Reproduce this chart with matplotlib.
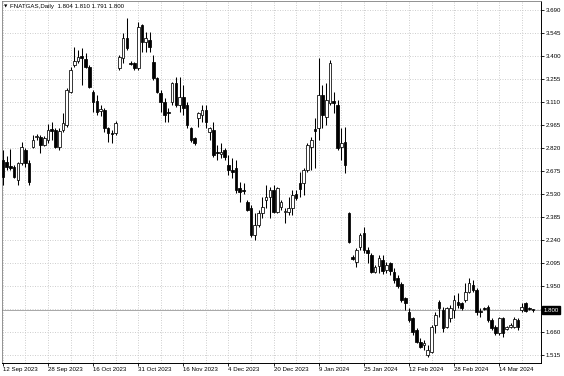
import matplotlib
matplotlib.use("Agg")
import matplotlib.pyplot as plt
from matplotlib.transforms import blended_transform_factory

# Daily OHLC, FNATGAS
opens = [2.745, 2.732, 2.707, 2.701, 2.619, 2.726, 2.808, 2.726, 2.827, 2.890,
         2.890, 2.839, 2.871, 2.940, 2.934, 2.827, 2.934, 2.965, 3.173, 3.343,
         3.369, 3.400, 3.381, 3.331, 3.173, 3.117, 3.054, 3.060, 2.947, 2.915,
         2.915, 3.325, 3.388, 3.514, 3.356, 3.356, 3.325, 3.595, 3.488, 3.501,
         3.362, 3.262, 3.167, 3.110, 3.047, 3.110, 3.230, 3.091, 3.142, 3.091,
         2.947, 2.884, 3.010, 3.028, 3.060, 2.921, 2.934, 2.795, 2.783, 2.808,
         2.713, 2.682, 2.695, 2.569, 2.556, 2.480, 2.443, 2.272, 2.335, 2.411,
         2.493, 2.512, 2.556, 2.417, 2.449, 2.417, 2.417, 2.443, 2.531, 2.600,
         2.600, 2.682, 2.827, 2.940, 2.947, 3.154, 3.016, 3.104, 3.117, 3.091,
         2.827, 2.858, 2.411, 2.134, 2.102, 2.197, 2.285, 2.178, 2.146, 2.039,
         2.077, 2.115, 2.052, 2.096, 2.039, 2.002, 1.964, 1.876, 1.787, 1.750,
         1.674, 1.598, 1.579, 1.516, 1.535, 1.705, 1.850, 1.800, 1.693, 1.750,
         1.800, 1.850, 1.844, 1.863, 1.913, 1.957, 1.926, 1.794, 1.813, 1.819,
         1.737, 1.693, 1.655, 1.750, 1.680, 1.693, 1.693, 1.737, 1.800, 1.844,
         1.813, 1.804]
highs = [2.808, 2.770, 2.814, 2.713, 2.732, 2.858, 2.821, 2.745, 2.902, 2.909,
         2.902, 2.896, 2.972, 2.984, 2.947, 2.947, 3.041, 3.199, 3.331, 3.457,
         3.438, 3.451, 3.419, 3.343, 3.186, 3.154, 3.091, 3.073, 2.953, 2.934,
         2.991, 3.406, 3.545, 3.640, 3.369, 3.362, 3.614, 3.602, 3.551, 3.551,
         3.406, 3.268, 3.186, 3.136, 3.073, 3.236, 3.268, 3.268, 3.217, 3.110,
         2.953, 2.890, 3.047, 3.091, 3.091, 2.953, 2.984, 2.839, 2.852, 2.821,
         2.776, 2.758, 2.745, 2.606, 2.600, 2.493, 2.461, 2.411, 2.430, 2.512,
         2.587, 2.575, 2.587, 2.575, 2.493, 2.443, 2.512, 2.556, 2.556, 2.669,
         2.695, 2.852, 2.890, 3.010, 3.388, 3.217, 3.230, 3.375, 3.173, 3.123,
         2.947, 2.953, 2.417, 2.146, 2.191, 2.285, 2.323, 2.197, 2.159, 2.083,
         2.146, 2.146, 2.102, 2.102, 2.065, 2.020, 1.976, 1.882, 1.813, 1.756,
         1.687, 1.624, 1.611, 1.579, 1.705, 1.787, 1.863, 1.819, 1.819, 1.831,
         1.894, 1.907, 1.850, 1.970, 2.002, 1.989, 1.939, 1.813, 1.819, 1.831,
         1.750, 1.705, 1.756, 1.756, 1.699, 1.718, 1.756, 1.750, 1.844, 1.850,
         1.819, 1.810]
lows = [2.587, 2.682, 2.682, 2.632, 2.587, 2.713, 2.701, 2.587, 2.821, 2.871,
        2.789, 2.833, 2.852, 2.871, 2.821, 2.808, 2.921, 2.953, 3.167, 3.331,
        3.356, 3.217, 3.325, 3.199, 3.047, 3.028, 3.022, 2.921, 2.858, 2.852,
        2.902, 3.312, 3.356, 3.438, 3.343, 3.312, 3.312, 3.425, 3.425, 3.425,
        3.249, 3.167, 3.047, 2.984, 2.984, 3.091, 3.079, 3.047, 3.028, 2.947,
        2.858, 2.839, 2.953, 2.984, 2.947, 2.871, 2.764, 2.745, 2.758, 2.745,
        2.650, 2.632, 2.537, 2.480, 2.531, 2.424, 2.260, 2.241, 2.323, 2.380,
        2.443, 2.380, 2.411, 2.411, 2.430, 2.348, 2.398, 2.398, 2.493, 2.512,
        2.524, 2.669, 2.682, 2.695, 2.871, 2.947, 2.965, 3.091, 3.041, 2.808,
        2.745, 2.663, 2.222, 2.115, 2.071, 2.178, 2.159, 2.096, 2.033, 2.033,
        2.033, 2.027, 2.033, 2.020, 1.970, 1.939, 1.850, 1.800, 1.724, 1.642,
        1.592, 1.561, 1.548, 1.504, 1.529, 1.655, 1.756, 1.661, 1.687, 1.724,
        1.750, 1.813, 1.800, 1.850, 1.907, 1.913, 1.768, 1.756, 1.800, 1.724,
        1.674, 1.642, 1.642, 1.630, 1.674, 1.687, 1.687, 1.674, 1.787, 1.787,
        1.800, 1.791]
closes = [2.638, 2.701, 2.695, 2.638, 2.726, 2.827, 2.726, 2.606, 2.871, 2.896,
          2.839, 2.884, 2.934, 2.928, 2.827, 2.928, 2.978, 3.186, 3.312, 3.369,
          3.394, 3.388, 3.331, 3.205, 3.110, 3.047, 3.066, 2.947, 2.915, 2.909,
          2.978, 3.394, 3.514, 3.451, 3.353, 3.325, 3.583, 3.488, 3.514, 3.457,
          3.262, 3.173, 3.110, 3.028, 3.041, 3.230, 3.091, 3.142, 3.073, 2.965,
          2.871, 2.852, 3.041, 3.060, 2.984, 2.947, 2.776, 2.789, 2.795, 2.764,
          2.682, 2.669, 2.556, 2.543, 2.548, 2.430, 2.272, 2.335, 2.411, 2.449,
          2.512, 2.556, 2.417, 2.569, 2.480, 2.424, 2.443, 2.524, 2.506, 2.562,
          2.682, 2.839, 2.871, 2.928, 3.154, 3.028, 3.123, 3.356, 3.104, 2.821,
          2.852, 2.713, 2.228, 2.121, 2.178, 2.272, 2.178, 2.159, 2.039, 2.071,
          2.128, 2.046, 2.083, 2.046, 1.989, 1.951, 1.863, 1.844, 1.737, 1.661,
          1.598, 1.567, 1.592, 1.548, 1.693, 1.768, 1.813, 1.687, 1.813, 1.813,
          1.863, 1.831, 1.813, 1.913, 1.970, 1.926, 1.787, 1.787, 1.810, 1.737,
          1.687, 1.655, 1.750, 1.655, 1.693, 1.705, 1.743, 1.693, 1.819, 1.794,
          1.806, 1.800]

date_labels = ["12 Sep 2023", "28 Sep 2023", "16 Oct 2023", "31 Oct 2023",
               "16 Nov 2023", "4 Dec 2023", "20 Dec 2023", "9 Jan 2024",
               "25 Jan 2024", "12 Feb 2024", "28 Feb 2024", "14 Mar 2024"]
label_bars = [0, 12, 24, 36, 48, 60, 72, 84, 96, 108, 120, 132]
grid_bars = list(range(0, 142, 6))
price_ticks = [3.690, 3.545, 3.400, 3.255, 3.110, 2.965, 2.820, 2.675,
               2.530, 2.385, 2.240, 2.095, 1.950, 1.805, 1.660, 1.515]
last_price = 1.800
title_text = "FNATGAS,Daily  1.804 1.810 1.791 1.800"

FONT = "Liberation Sans"
FS = 4.4

fig = plt.figure(figsize=(5.64, 3.76), dpi=100)
ax = fig.add_axes([0.0027, 0.0346, 0.9565, 0.9627])
ax.set_facecolor("white")

n = len(opens)
xs = list(range(n))
ax.vlines(xs, lows, highs, color="black", linewidth=0.75, zorder=3)
for i in range(n):
    o, c = opens[i], closes[i]
    bottom = min(o, c)
    h = max(abs(c - o), 0.003)
    fc = "white" if c >= o else "black"
    ax.bar(i, h, bottom=bottom, width=0.7, color=fc, edgecolor="black",
           linewidth=0.55, zorder=4)

ax.set_xlim(-0.35, 143.1)
ax.set_ylim(1.467, 3.747)

# grid
for gb in grid_bars:
    ax.axvline(gb, color="#c8c8c8", linewidth=0.6, linestyle=(0, (1.2, 1.8)), zorder=1)
for pt in price_ticks:
    ax.axhline(pt, color="#c8c8c8", linewidth=0.6, linestyle=(0, (1.2, 1.8)), zorder=1)

# bid line
ax.axhline(last_price, color="#a8a8a8", linewidth=0.7, zorder=2)

ax.set_xticks(label_bars)
ax.set_xticklabels(date_labels, ha="left", fontsize=FS, family=FONT)
ax.tick_params(axis="x", length=2, width=0.6, pad=1, direction="out")

ax.yaxis.tick_right()
ax.set_yticks(price_ticks)
ylabels = ["%.3f" % p if abs(p - 1.805) > 1e-6 else "" for p in price_ticks]
ax.set_yticklabels(ylabels, fontsize=FS, family=FONT)
ax.tick_params(axis="y", length=2, width=0.6, pad=1.2, direction="out")

for s in ["left", "top"]:
    ax.spines[s].set_color("#808080")
    ax.spines[s].set_linewidth(0.6)
for s in ["right", "bottom"]:
    ax.spines[s].set_color("black")
    ax.spines[s].set_linewidth(0.7)

tr = blended_transform_factory(ax.transAxes, ax.transData)
ax.text(1.0045, last_price, "%.3f" % last_price, transform=tr, va="center", ha="left",
        fontsize=FS, family=FONT, color="white", zorder=10,
        bbox=dict(boxstyle="square,pad=0.25", fc="black", ec="black"))

fig.text(3.5 / 564, 1 - 6.5 / 376, "\u25BC", fontsize=3.2, family="DejaVu Sans",
         va="center", ha="left", color="black")
fig.text(9.5 / 564, 1 - 6.5 / 376, title_text, fontsize=FS, family=FONT,
         va="center", ha="left", color="black")

fig.savefig("out.png", dpi=100, facecolor="white")
